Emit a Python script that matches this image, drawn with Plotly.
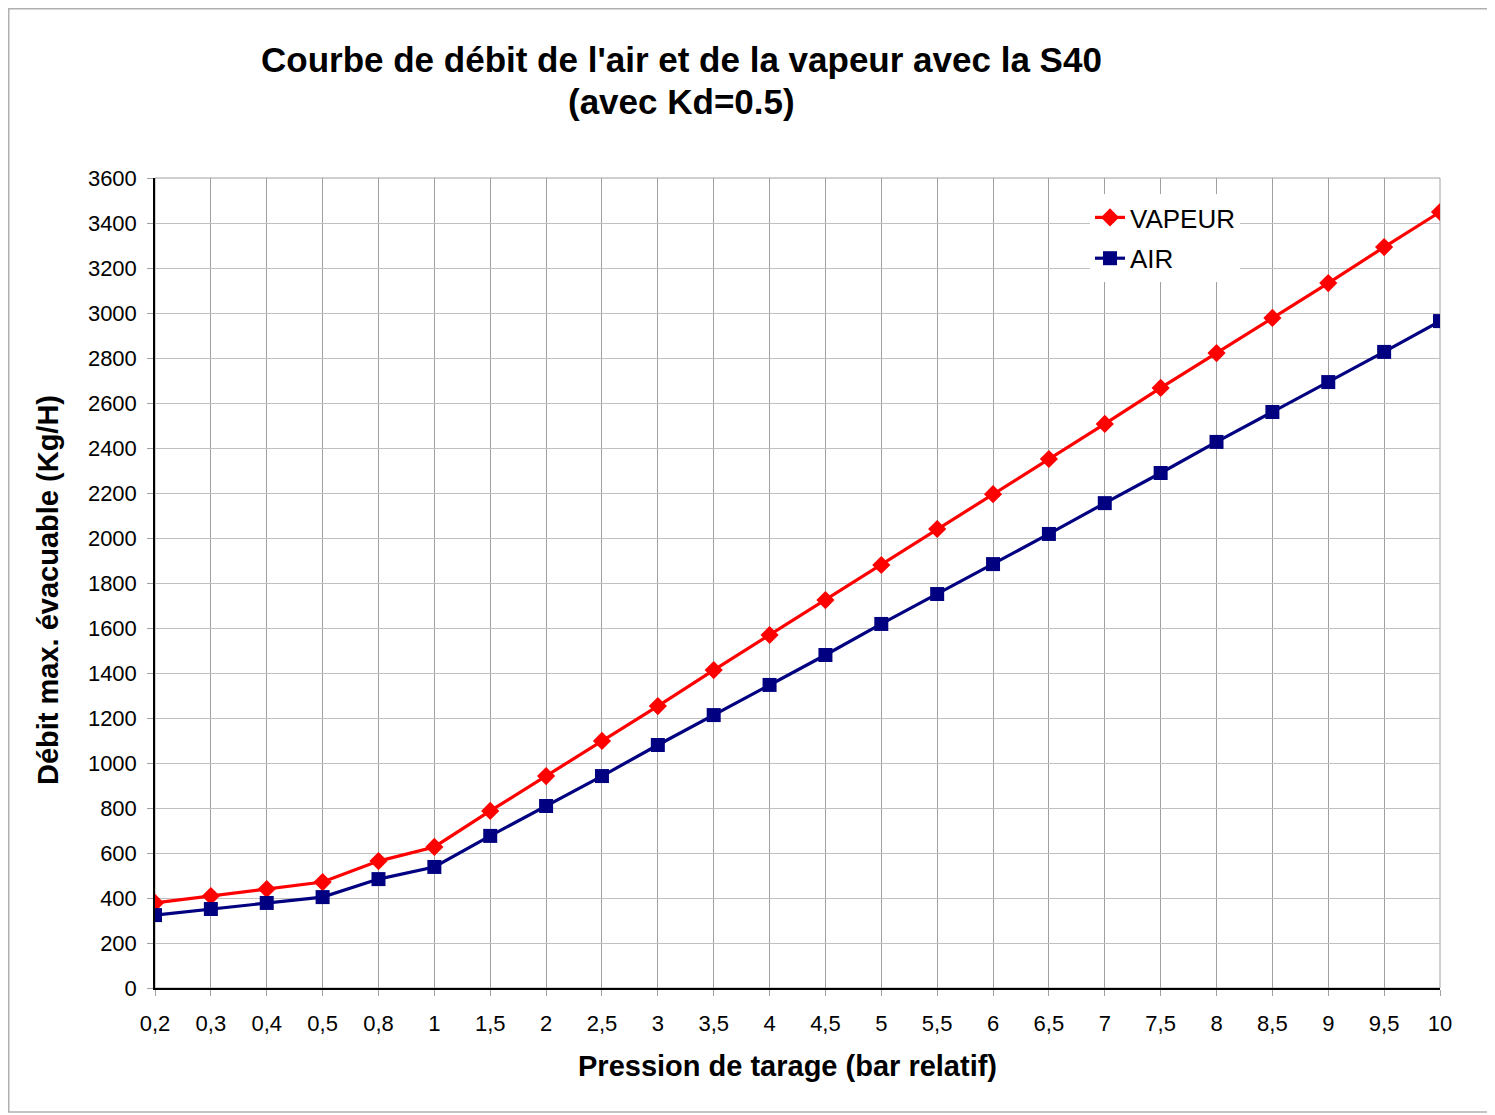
import plotly.graph_objects as go

categories = ["0,2", "0,3", "0,4", "0,5", "0,8", "1", "1,5", "2", "2,5", "3", "3,5", "4",
              "4,5", "5", "5,5", "6", "6,5", "7", "7,5", "8", "8,5", "9", "9,5", "10"]
vapeur = [378, 409, 440, 471, 564, 627, 787, 942, 1098, 1253, 1413, 1569,
          1724, 1880, 2040, 2195, 2351, 2507, 2667, 2822, 2978, 3133, 3293, 3449]
air = [324, 351, 378, 404, 484, 538, 676, 809, 942, 1080, 1213, 1347,
       1480, 1618, 1751, 1884, 2018, 2155, 2289, 2427, 2560, 2693, 2827, 2964]
y_ticks = list(range(0, 3601, 200))

FONT = "Liberation Sans, Arial, sans-serif"
OFF = 8  # page body margin
W, H = 1495 - OFF, 1115 - OFF
L, R, T, B = 155 - OFF, 1440 - OFF, 178 - OFF, 988 - OFF
pw, ph = R - L, B - T

def px(x):
    return (x - OFF - L) / pw

def py(y):
    return (B - (y - OFF)) / ph

fig = go.Figure()
fig.add_trace(go.Scatter(x=categories, y=vapeur, name="VAPEUR", mode="lines+markers",
                         legendgroup="v",
                         line=dict(color="#FF0000", width=3.2),
                         marker=dict(symbol="diamond", size=14, color="#FF0000")))
fig.add_trace(go.Scatter(x=categories, y=air, name="AIR", mode="lines+markers",
                         legendgroup="a",
                         line=dict(color="#000080", width=3.2),
                         marker=dict(symbol="square", size=14, color="#000080")))

fig.update_layout(
    width=W, height=H,
    margin=dict(l=L, r=W - R, t=T, b=H - B),
    paper_bgcolor="white", plot_bgcolor="white",
    font=dict(family=FONT, color="black", size=22),
    showlegend=True,
    legend=dict(x=px(1090), y=py(194), xanchor="left", yanchor="top",
                bgcolor="white", borderwidth=0, font=dict(size=26, family=FONT),
                itemwidth=30, tracegroupgap=4),
    xaxis=dict(type="category", range=[0, len(categories) - 1],
               showgrid=True, gridcolor="#a0a0a0", gridwidth=1,
               showline=True, linecolor="black", linewidth=1.5,
               ticks="outside", ticklen=6, tickcolor="#a0a0a0",
               ticklabelstandoff=9, tickfont=dict(size=22, family=FONT),
               zeroline=False, fixedrange=True),
    yaxis=dict(range=[0, 3600], tickvals=y_ticks,
               showgrid=True, gridcolor="#c0c0c0", gridwidth=1,
               showline=True, linecolor="black", linewidth=1.5,
               ticks="outside", ticklen=6, tickcolor="#a0a0a0",
               ticklabelstandoff=6, tickfont=dict(size=22, family=FONT),
               zeroline=False, fixedrange=True),
    shapes=[
        dict(type="rect", xref="paper", yref="paper", x0=0, x1=1, y0=0, y1=1,
             line=dict(color="#a0a0a0", width=1), layer="below"),
        dict(type="rect", xref="paper", yref="paper",
             x0=(0.75 - L) / pw, x1=(W - 2 - L) / pw,
             y0=(B - (H - 3)) / ph, y1=(B - 0.75) / ph,
             line=dict(color="#b0b0b0", width=1.5), layer="below"),
    ],
    annotations=[
        dict(text="<b>Courbe de débit de l'air et de la vapeur avec la S40</b>",
             xref="paper", yref="paper", x=px(681), y=py(60), xanchor="center", yanchor="middle",
             showarrow=False, font=dict(size=35, family=FONT)),
        dict(text="<b>(avec Kd=0.5)</b>",
             xref="paper", yref="paper", x=px(681), y=py(101), xanchor="center", yanchor="middle",
             showarrow=False, font=dict(size=35, family=FONT)),
        dict(text="<b>Débit max. évacuable (Kg/H)</b>", textangle=-90,
             xref="paper", yref="paper", x=px(48), y=py(590), xanchor="center", yanchor="middle",
             showarrow=False, font=dict(size=29, family=FONT)),
        dict(text="<b>Pression de tarage (bar relatif)</b>",
             xref="paper", yref="paper", x=px(787), y=py(1066), xanchor="center", yanchor="middle",
             showarrow=False, font=dict(size=29, family=FONT)),
    ],
)

fig.write_html("out.html")
